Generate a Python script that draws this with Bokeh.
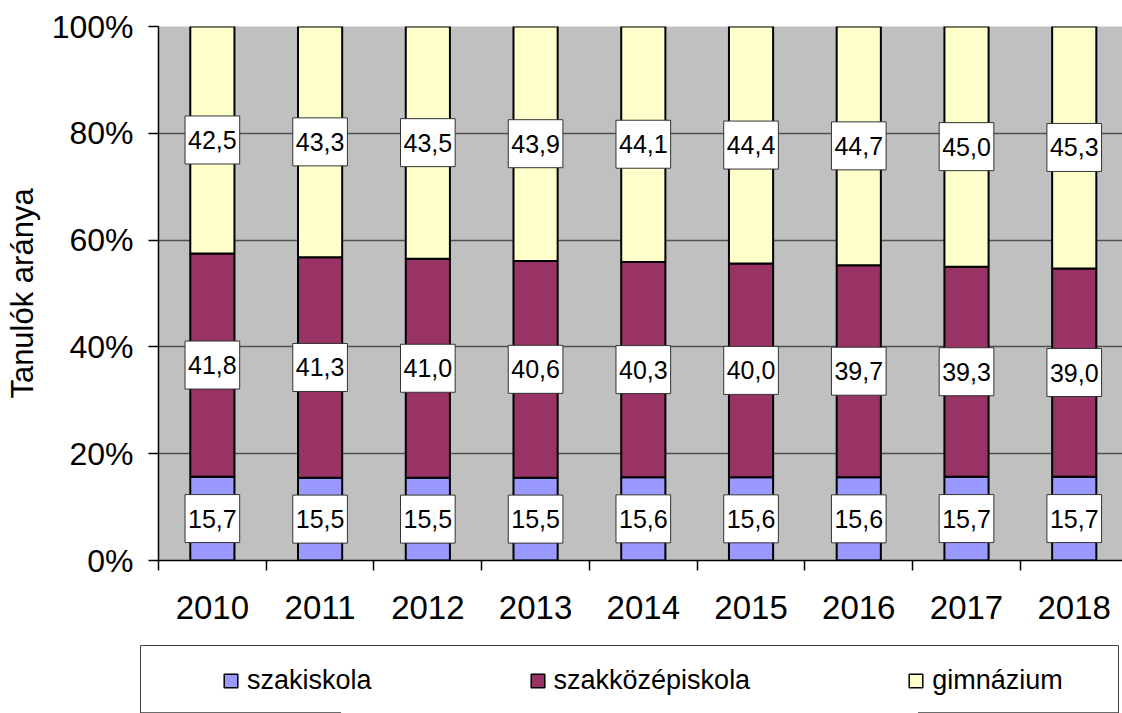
import numpy as np
from bokeh.plotting import figure
from bokeh.models import (Range1d, FixedTicker, Legend, LegendItem, LinearAxis,
                          ColumnDataSource)
from bokeh.layouts import column
from bokeh.embed import file_html
from bokeh.resources import INLINE
from bokeh.core.properties import value

# ---- data ----
years = ["2010", "2011", "2012", "2013", "2014", "2015", "2016", "2017", "2018"]
szakiskola = [15.7, 15.5, 15.5, 15.5, 15.6, 15.6, 15.6, 15.7, 15.7]
szakkozepiskola = [41.8, 41.3, 41.0, 40.6, 40.3, 40.0, 39.7, 39.3, 39.0]
gimnazium = [42.5, 43.3, 43.5, 43.9, 44.1, 44.4, 44.7, 45.0, 45.3]
series_names = ["szakiskola", "szakközépiskola", "gimnázium"]
series_colors = ["#9999FF", "#993366", "#FFFFCC"]
y_ticks = [0, 20, 40, 60, 80, 100]
y_tick_labels = ["0%", "20%", "40%", "60%", "80%", "100%"]
y_axis_title = "Tanulók aránya"

FONT = "Liberation Sans"

x = np.arange(len(years))
series = [szakiskola, szakkozepiskola, gimnazium]

p = figure(width=1122, height=645,
           x_range=Range1d(-0.5, 8.448), y_range=Range1d(0, 100),
           output_backend="svg", toolbar_location=None,
           min_border_left=158, min_border_right=0,
           min_border_top=26, min_border_bottom=85)
p.frame_align = False
p.background_fill_color = "#C0C0C0"
p.border_fill_color = "white"
p.outline_line_color = None

# grid
p.xgrid.visible = False
p.ygrid.ticker = FixedTicker(ticks=y_ticks)
p.ygrid.grid_line_color = "#505050"
p.ygrid.grid_line_width = 1.5

# stacked bars
bottom = np.zeros(len(years))
label_x, label_y, label_t = [], [], []
for vals, col in zip(series, series_colors):
    vals = np.array(vals)
    top = np.minimum(bottom + vals, 100.0)
    p.vbar(x=x, bottom=bottom, top=top, width=0.41,
           fill_color=col, line_color="black", line_width=2)
    label_x.extend(x.tolist())
    label_y.extend(((bottom + top) / 2).tolist())
    label_t.extend([f"{v:.1f}".replace(".", ",") for v in vals])
    bottom = top

p.text(x=label_x, y=label_y, text=label_t,
       text_font=value(FONT), text_font_size="25px", text_color="black",
       text_align="center", text_baseline="middle",
       background_fill_color="white", border_line_color="#333333",
       border_line_width=1,
       padding=dict(left=3, right=3, top=15, bottom=15))

# y axis
ya = p.yaxis[0]
ya.ticker = FixedTicker(ticks=y_ticks)
ya.major_label_overrides = dict(zip(y_ticks, y_tick_labels))
ya.major_label_text_font = FONT
ya.major_label_text_font_size = "32px"
ya.major_label_text_color = "black"
ya.major_label_standoff = 15
ya.major_tick_in = 0
ya.major_tick_out = 10
ya.major_tick_line_color = "black"
ya.major_tick_line_width = 1.5
ya.minor_tick_line_color = None
ya.axis_line_color = "black"
ya.axis_line_width = 1.5
ya.axis_label = y_axis_title
ya.axis_label_text_font = FONT
ya.axis_label_text_font_size = "31px"
ya.axis_label_text_font_style = "normal"
ya.axis_label_text_color = "black"
ya.axis_label_standoff = 9

# x axis
xa = p.xaxis[0]
xa.ticker = FixedTicker(ticks=x.tolist(),
                        minor_ticks=[i - 0.5 for i in range(len(years) + 1)])
xa.major_label_overrides = {int(i): y for i, y in zip(x, years)}
xa.major_label_text_font = FONT
xa.major_label_text_font_size = "33px"
xa.major_label_text_color = "black"
xa.major_label_standoff = 25
xa.major_tick_in = 0
xa.major_tick_out = 0
xa.minor_tick_in = 0
xa.minor_tick_out = 10
xa.minor_tick_line_color = "black"
xa.minor_tick_line_width = 1.5
xa.axis_line_color = "black"
xa.axis_line_width = 1.5

# legend panel (the proxies below share the chart's data but sit outside
# this panel's visible range, so only their legend swatches show)
p2 = figure(width=1122, height=68,
            x_range=Range1d(0, 1), y_range=Range1d(1000, 1001),
            output_backend="svg", toolbar_location=None,
            x_axis_location=None, y_axis_location=None,
            min_border_left=140, min_border_right=4,
            min_border_top=0, min_border_bottom=0)
p2.frame_align = False
p2.outline_line_color = None
p2.background_fill_color = "white"
p2.grid.visible = False
for side in ["left", "above", "right"]:
    ax = LinearAxis(ticker=FixedTicker(ticks=[]), major_tick_out=0, major_tick_in=0,
                    minor_tick_out=0, minor_tick_in=0, major_label_standoff=0,
                    axis_line_color="#404040", axis_line_width=1)
    p2.add_layout(ax, side)

items = []
for name, vals, col in zip(series_names, series, series_colors):
    src = ColumnDataSource(dict(x=x, top=vals))
    r = p2.vbar(x="x", top="top", width=0.41, source=src,
                fill_color=col, line_color="black", line_width=1.5)
    items.append(LegendItem(label=name, renderers=[r]))

legend = Legend(items=items, orientation="horizontal", location=(82, 17),
                spacing=157, glyph_width=17, glyph_height=17,
                label_standoff=8, label_text_font=FONT,
                label_text_font_size="27px", label_text_color="black",
                border_line_color=None, background_fill_alpha=0,
                padding=0, margin=0)
p2.add_layout(legend, "center")

layout = column(p, p2, spacing=0)
open("out.html", "w").write(file_html(layout, INLINE))
